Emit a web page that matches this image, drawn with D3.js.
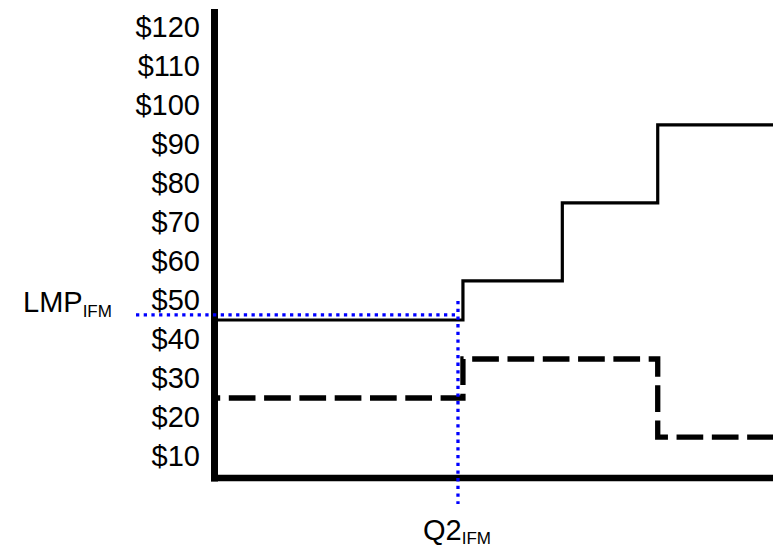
<!DOCTYPE html>
<html>
<head>
<meta charset="utf-8">
<script src="https://cdn.jsdelivr.net/npm/d3@7"></script>
<style>
  html, body { margin: 0; padding: 0; background: #fff; }
  svg { display: block; }
  text { font-family: Arial, "Liberation Sans", sans-serif; fill: #000; }
</style>
</head>
<body>
<svg id="chart" width="773" height="548"></svg>
<script>
// ---- data ----
const priceTicks = [10, 20, 30, 40, 50, 60, 70, 80, 90, 100, 110, 120];
// supply curve (solid): quantity breakpoints and price for each step
const solidQ = [0, 250, 350, 446, 562];
const solidP = [45, 55, 75, 95];
// bid curve (dashed)
const dashQ = [0, 250, 446, 562];
const dashP = [25, 35, 15];
// market clearing point
const lmpValue = 46.3;
const q2Value = 245;
const lmpLabel = ["LMP", "IFM"];
const q2Label = ["Q2", "IFM"];

// ---- scales ----
const svg = d3.select("#chart");
const x = d3.scaleLinear().domain([0, 562]).range([214.5, 773]);
const y = d3.scaleLinear().domain([4.5, 124.7]).range([478, 9]);

function stepPoints(qs, ps) {
  const pts = [];
  ps.forEach((p, i) => {
    pts.push([qs[i], p]);
    pts.push([qs[i + 1], p]);
  });
  return pts;
}
const line = d3.line().x(d => x(d[0])).y(d => y(d[1]));

// solid curve
svg.append("path")
  .attr("d", line(stepPoints(solidQ, solidP)))
  .attr("fill", "none")
  .attr("stroke", "#000")
  .attr("stroke-width", 3.2)
  .attr("stroke-linejoin", "miter");

// dashed curve
svg.append("path")
  .attr("d", line(stepPoints(dashQ, dashP)))
  .attr("fill", "none")
  .attr("stroke", "#000")
  .attr("stroke-width", 5.3)
  .attr("stroke-dasharray", "26.7,8.6")
  .attr("stroke-dashoffset", 21)
  .attr("stroke-linejoin", "miter");

// y axis with tick labels
const yAxis = d3.axisLeft(y)
  .tickValues(priceTicks)
  .tickSize(0)
  .tickPadding(14.5)
  .tickFormat(d => "$" + d);
const gy = svg.append("g").attr("transform", "translate(214.5,0)").call(yAxis);
gy.select(".domain").remove();
gy.selectAll("text")
  .attr("font-size", 29)
  .attr("font-family", "Arial, 'Liberation Sans', sans-serif")
  .attr("fill", "#000");

// axis lines
svg.append("line")
  .attr("x1", x(0)).attr("x2", x(0))
  .attr("y1", y(124.7)).attr("y2", y(4.5) + 3.5)
  .attr("stroke", "#000").attr("stroke-width", 7);
svg.append("line")
  .attr("x1", x(0) - 3.5).attr("x2", 773)
  .attr("y1", y(4.5)).attr("y2", y(4.5))
  .attr("stroke", "#000").attr("stroke-width", 6.5);

// blue dotted guide lines
svg.append("line")
  .attr("x1", 136).attr("x2", x(q2Value))
  .attr("y1", y(lmpValue)).attr("y2", y(lmpValue))
  .attr("stroke", "#0000ff").attr("stroke-width", 3.3)
  .attr("stroke-dasharray", "3.3,4.4");
svg.append("line")
  .attr("x1", x(q2Value)).attr("x2", x(q2Value))
  .attr("y1", 301).attr("y2", 504)
  .attr("stroke", "#0000ff").attr("stroke-width", 3.3)
  .attr("stroke-dasharray", "3.3,4.4");

// labels
const lmp = svg.append("text").attr("x", 23).attr("y", 311.7).attr("font-size", 29);
lmp.append("tspan").text(lmpLabel[0]);
lmp.append("tspan").attr("font-size", 17).attr("dy", 5.6).text(lmpLabel[1]);

const q2 = svg.append("text").attr("x", 423).attr("y", 539.5).attr("font-size", 29);
q2.append("tspan").text(q2Label[0]);
q2.append("tspan").attr("font-size", 17).attr("dy", 4).text(q2Label[1]);
</script>
</body>
</html>
